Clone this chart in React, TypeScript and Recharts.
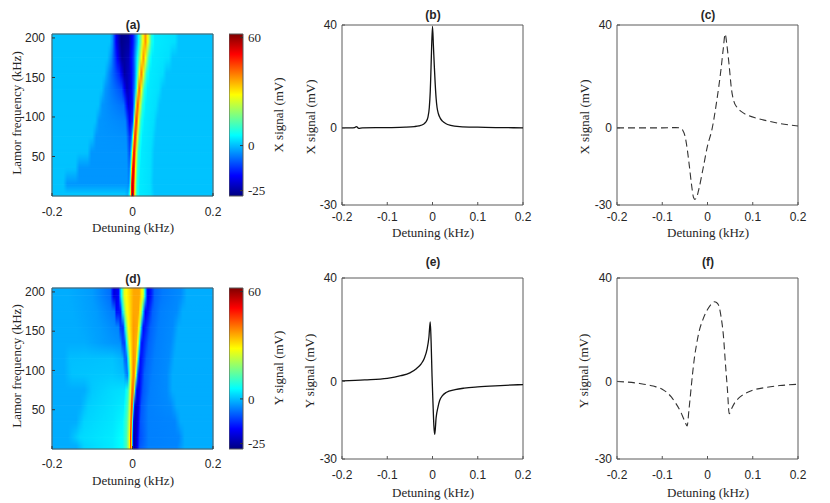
import { ComposedChart, Line, LineChart, ReferenceArea, XAxis, YAxis } from "recharts";

type Pt = [number, number];

// ---- data ----

// Larmor frequencies (kHz) at which the map profiles below were read
const larmorLevels = [3, 15, 35, 55, 75, 95, 115, 135, 155, 175, 195];

// (a) X signal map: per Larmor level, [detuning kHz, signal mV] profile
const xMapRows: Pt[][] = [
  [[-0.2, 0.5], [-0.02, 0.5], [-0.012, -1.5], [-0.008, 4], [-0.005, 25], [-0.003, 48], [0, 58], [0.003, 50], [0.006, 25], [0.011, 8], [0.018, 4], [0.045, 3], [0.055, 0.5], [0.2, 0.5]],
  [[-0.2, 0.5], [-0.172, 0.5], [-0.162, -3.5], [-0.014, -3.5], [-0.009, -5], [-0.006, 5], [-0.004, 25], [-0.0025, 48], [0.0005, 57], [0.0035, 48], [0.0065, 25], [0.011, 9], [0.018, 4], [0.043, 3], [0.053, 0.5], [0.2, 0.5]],
  [[-0.2, 0.5], [-0.142, 0.5], [-0.132, -3.5], [-0.014, -3.5], [-0.008, -7], [-0.005, 5], [-0.003, 25], [-0.001, 46], [0.002, 54], [0.005, 46], [0.008, 25], [0.013, 9], [0.02, 4], [0.044, 3], [0.054, 0.5], [0.2, 0.5]],
  [[-0.2, 0.5], [-0.112, 0.5], [-0.102, -3.5], [-0.015, -3.5], [-0.007, -10], [-0.003, 3], [-0.0005, 25], [0.0015, 44], [0.004, 51], [0.0065, 44], [0.0095, 25], [0.015, 9], [0.022, 4], [0.045, 3], [0.055, 0.5], [0.2, 0.5]],
  [[-0.2, 0.5], [-0.1, 0.5], [-0.09, -3.5], [-0.016, -4], [-0.006, -13], [-0.001, -3], [0.002, 25], [0.004, 42], [0.0065, 48], [0.009, 42], [0.0125, 25], [0.018, 9], [0.025, 4], [0.048, 3], [0.058, 0.5], [0.2, 0.5]],
  [[-0.2, 0.5], [-0.093, 0.5], [-0.083, -3.5], [-0.018, -5], [-0.007, -17], [0, -12], [0.0025, 2], [0.005, 25], [0.007, 40], [0.0095, 46], [0.012, 40], [0.0155, 25], [0.021, 9], [0.029, 4], [0.052, 3], [0.062, 0.5], [0.2, 0.5]],
  [[-0.2, 0.5], [-0.085, 0.5], [-0.075, -3.5], [-0.022, -7], [-0.01, -20], [0, -15], [0.005, 0], [0.008, 25], [0.0105, 38], [0.013, 44], [0.0155, 38], [0.019, 25], [0.025, 9], [0.033, 4], [0.058, 3], [0.068, 0.5], [0.2, 0.5]],
  [[-0.2, 0.5], [-0.077, 0.5], [-0.067, -3.5], [-0.027, -10], [-0.014, -23], [-0.004, -19], [0.004, -8], [0.009, 5], [0.0125, 25], [0.0145, 36], [0.017, 42], [0.0195, 36], [0.023, 25], [0.029, 9], [0.037, 4], [0.065, 3], [0.075, 0.5], [0.2, 0.5]],
  [[-0.2, 0.5], [-0.07, 0.5], [-0.06, -3.5], [-0.032, -14], [-0.02, -25], [-0.007, -21], [0.004, -10], [0.01, 4], [0.0155, 22], [0.019, 34], [0.022, 40], [0.025, 34], [0.0285, 24], [0.035, 9], [0.043, 4], [0.075, 3], [0.085, 0.5], [0.2, 0.5]],
  [[-0.2, 0.5], [-0.063, 0.5], [-0.053, -3.5], [-0.038, -16], [-0.026, -26], [-0.01, -23], [0.002, -12], [0.01, 2], [0.018, 18], [0.023, 30], [0.027, 38], [0.031, 31], [0.035, 22], [0.041, 9], [0.049, 4], [0.09, 3], [0.1, 0.5], [0.2, 0.5]],
  [[-0.2, 0.5], [-0.057, 0.5], [-0.05, -3.5], [-0.04, -18], [-0.028, -27], [-0.01, -25], [0.002, -14], [0.012, 0], [0.02, 15], [0.026, 28], [0.032, 38], [0.037, 30], [0.041, 22], [0.047, 9], [0.055, 4], [0.105, 3], [0.115, 0.5], [0.2, 0.5]],
];

// (d) Y signal map
const yMapRows: Pt[][] = [
  [[-0.2, -1.5], [-0.14, -1.5], [-0.12, 2], [-0.05, 4], [-0.025, 6], [-0.015, 12], [-0.008, 25], [-0.005, 45], [-0.003, 40], [-0.001, 10], [0.001, -15], [0.004, -25], [0.01, -20], [0.018, -9], [0.04, -5.5], [0.11, -5], [0.13, -1.5], [0.2, -1.5]],
  [[-0.2, -1.5], [-0.16, -1.5], [-0.13, 2.5], [-0.05, 4], [-0.025, 6], [-0.015, 12], [-0.008, 25], [-0.005, 46], [-0.003, 42], [-0.001, 10], [0.001, -15], [0.004, -25], [0.01, -21], [0.018, -10], [0.04, -5.5], [0.115, -5], [0.13, -1.5], [0.2, -1.5]],
  [[-0.2, -1.5], [-0.14, -1.5], [-0.12, 2], [-0.05, 3.5], [-0.025, 5], [-0.014, 12], [-0.007, 25], [-0.004, 45], [-0.002, 40], [0, 10], [0.002, -15], [0.006, -24], [0.012, -20], [0.02, -9], [0.04, -5.5], [0.105, -5], [0.12, -1.5], [0.2, -1.5]],
  [[-0.2, -1.5], [-0.13, -1.5], [-0.11, 1.5], [-0.05, 3], [-0.022, 4], [-0.012, 12], [-0.006, 26], [-0.003, 44], [0, 40], [0.002, 10], [0.004, -12], [0.008, -22], [0.014, -19], [0.022, -9], [0.04, -5.5], [0.095, -4.5], [0.11, -1.5], [0.2, -1.5]],
  [[-0.2, -1.5], [-0.12, -1.5], [-0.1, 1], [-0.05, 2.5], [-0.02, 3], [-0.011, 10], [-0.005, 27], [-0.001, 42], [0.003, 38], [0.006, 12], [0.008, -10], [0.012, -19], [0.018, -16], [0.026, -9], [0.045, -5.5], [0.085, -4.5], [0.1, -1.5], [0.2, -1.5]],
  [[-0.2, -1.5], [-0.17, -1.5], [-0.15, 0.5], [-0.05, 1], [-0.022, 0], [-0.016, -5], [-0.012, -6], [-0.008, 10], [-0.004, 28], [0.002, 40], [0.006, 36], [0.009, 20], [0.012, -5], [0.016, -17], [0.022, -14], [0.03, -8], [0.05, -5.5], [0.085, -4.5], [0.1, -1.5], [0.2, -1.5]],
  [[-0.2, -1.5], [-0.17, -1.5], [-0.155, 0], [-0.05, 0.5], [-0.025, -1], [-0.02, -7], [-0.015, -8], [-0.01, 10], [-0.005, 28], [0.002, 38], [0.008, 36], [0.012, 20], [0.016, -5], [0.02, -16], [0.026, -13], [0.035, -8], [0.055, -5.5], [0.09, -4.5], [0.105, -1.5], [0.2, -1.5]],
  [[-0.2, -1.5], [-0.12, -1.5], [-0.07, -3], [-0.03, -4], [-0.025, -10], [-0.019, -11], [-0.014, 8], [-0.008, 27], [0.002, 37], [0.01, 35], [0.015, 20], [0.019, -5], [0.023, -16], [0.029, -13], [0.04, -8], [0.06, -5.5], [0.095, -4.5], [0.11, -1.5], [0.2, -1.5]],
  [[-0.2, -1.5], [-0.14, -1.5], [-0.08, -3], [-0.035, -5], [-0.03, -12], [-0.023, -13], [-0.018, 8], [-0.011, 27], [0.002, 37], [0.012, 36], [0.018, 22], [0.023, -5], [0.027, -16], [0.033, -14], [0.045, -8], [0.065, -5.5], [0.1, -4.5], [0.115, -1.5], [0.2, -1.5]],
  [[-0.2, -1.5], [-0.15, -1.5], [-0.09, -3], [-0.045, -6], [-0.04, -16], [-0.03, -15], [-0.024, 6], [-0.016, 26], [0.002, 36], [0.015, 36], [0.022, 22], [0.028, -5], [0.032, -17], [0.039, -15], [0.05, -8], [0.07, -5.5], [0.11, -4.5], [0.125, -1.5], [0.2, -1.5]],
  [[-0.2, -1.5], [-0.16, -1.5], [-0.1, -3], [-0.055, -7], [-0.046, -20], [-0.035, -17], [-0.028, 5], [-0.02, 26], [0.003, 36], [0.017, 36], [0.027, 24], [0.033, -3], [0.038, -18], [0.046, -15], [0.055, -8], [0.075, -6], [0.12, -4.5], [0.135, -1.5], [0.2, -1.5]],
];

// (b) X signal, solid
const xSignalB: Pt[] = [
  [-0.2, 0], [-0.18, 0], [-0.172, 0.1], [-0.168, 0.5], [-0.163, -0.2], [-0.155, 0], [-0.1, 0.1], [-0.06, 0.25],
  [-0.04, 0.5], [-0.03, 0.8], [-0.02, 1.4], [-0.015, 2.2], [-0.01, 4.2], [-0.007, 8], [-0.005, 14], [-0.004, 19],
  [-0.0025, 28], [0, 39.5], [0.002, 32], [0.004, 24], [0.006, 17], [0.008, 11.5], [0.01, 8], [0.013, 5.5],
  [0.017, 3.8], [0.022, 2.6], [0.03, 1.6], [0.04, 1.0], [0.06, 0.5], [0.1, 0.25], [0.15, 0.1], [0.2, 0],
];

// (c) X signal, dashed
const xSignalC: Pt[] = [
  [-0.2, 0], [-0.15, 0], [-0.1, 0], [-0.07, 0.1], [-0.06, 0], [-0.055, -0.8], [-0.05, -3], [-0.045, -8],
  [-0.04, -15], [-0.035, -22.5], [-0.031, -27], [-0.028, -27.8], [-0.024, -27], [-0.02, -24.5], [-0.01, -16],
  [0, -7], [0.01, -0.5], [0.02, 10], [0.03, 23], [0.035, 31], [0.039, 36.5], [0.043, 32], [0.048, 24],
  [0.053, 15], [0.058, 10.5], [0.065, 8], [0.075, 6.3], [0.09, 4.8], [0.11, 3.7], [0.13, 2.8], [0.16, 1.7], [0.2, 0.7],
];

// (e) Y signal, solid
const ySignalE: Pt[] = [
  [-0.2, 0.2], [-0.15, 0.6], [-0.1, 1.2], [-0.07, 2.2], [-0.05, 3.3], [-0.035, 5], [-0.025, 6.8], [-0.018, 9],
  [-0.012, 12.5], [-0.008, 17], [-0.005, 23], [-0.003, 15], [-0.001, 2], [0.001, -8], [0.003, -17], [0.005, -20.5],
  [0.008, -14], [0.012, -10], [0.016, -7.3], [0.022, -5.5], [0.03, -4.3], [0.05, -3.2], [0.07, -2.6], [0.1, -2.1],
  [0.15, -1.6], [0.2, -1.2],
];

// (f) Y signal, dashed
const ySignalF: Pt[] = [
  [-0.2, 0], [-0.15, -0.8], [-0.12, -1.8], [-0.1, -3], [-0.08, -6], [-0.07, -8.5], [-0.06, -11.5], [-0.05, -15.5],
  [-0.045, -17.2], [-0.041, -11], [-0.037, -4], [-0.033, 3], [-0.029, 9], [-0.024, 14.5], [-0.019, 19], [-0.01, 24],
  [0, 27.8], [0.01, 30.2], [0.015, 30.8], [0.02, 30.5], [0.025, 29.3], [0.03, 25], [0.035, 18], [0.04, 6],
  [0.044, -3], [0.048, -12.5], [0.052, -11], [0.06, -8.3], [0.07, -6.3], [0.08, -5], [0.1, -3.4], [0.13, -2.3],
  [0.16, -1.6], [0.2, -1.1],
];

const detuningDomain: [number, number] = [-0.2, 0.2];
const detuningTicks = [-0.2, -0.1, 0, 0.1, 0.2];
const mapDetuningTicks = [-0.2, 0, 0.2];
const larmorDomain: [number, number] = [0, 205];
const larmorTicks = [50, 100, 150, 200];
const signalDomain: [number, number] = [-30, 40];
const signalTicks = [-30, 0, 40];
const colorLimits: [number, number] = [-28, 62];
const colorbarTicks = [-25, 0, 60];

// ---- styling helpers ----

const SANS = '"Liberation Sans", Arial, sans-serif';
const SERIF = '"Liberation Serif", "Times New Roman", serif';
const BOX = "#5a5a5a";
const tickStyle = { fontFamily: SANS, fontSize: 12, fill: "#262626" };

function jet(t: number) {
  const c = (v: number) => Math.round(255 * Math.min(1, Math.max(0, v)));
  return `rgb(${c(1.5 - Math.abs(4 * t - 3))},${c(1.5 - Math.abs(4 * t - 2))},${c(1.5 - Math.abs(4 * t - 1))})`;
}

const toT = (v: number) =>
  Math.min(1, Math.max(0, (v - colorLimits[0]) / (colorLimits[1] - colorLimits[0])));

const JET_KNOTS = [0.125, 0.375, 0.625, 0.875];

// gradient stops for one map row; extra stops at jet knots keep the colours on the colormap
function rowStops(profile: Pt[]) {
  const [lo, hi] = detuningDomain;
  const off = (d: number) => (d - lo) / (hi - lo);
  const stops: { offset: number; color: string }[] = [];
  profile.forEach(([d, v], i) => {
    if (i > 0) {
      const [d0, v0] = profile[i - 1];
      const t0 = toT(v0);
      const t1 = toT(v);
      const knots = JET_KNOTS.filter((k) => (k - t0) * (k - t1) < 0);
      if (t1 < t0) knots.reverse();
      knots.forEach((k) => {
        const f = (k - t0) / (t1 - t0);
        stops.push({ offset: off(d0 + f * (d - d0)), color: jet(k) });
      });
    }
    stops.push({ offset: off(d), color: jet(toT(v)) });
  });
  return stops;
}

function Caption({ x, y, text, rotate = false, serif = true, bold = false, size = 13 }: {
  x: number; y: number; text: string; rotate?: boolean; serif?: boolean; bold?: boolean; size?: number;
}) {
  return (
    <div
      style={{
        position: "absolute",
        left: x,
        top: y,
        transform: `translate(-50%, -50%)${rotate ? " rotate(-90deg)" : ""}`,
        whiteSpace: "nowrap",
        fontFamily: serif ? SERIF : SANS,
        fontWeight: bold ? 700 : 400,
        fontSize: size,
        lineHeight: 1,
        color: "#262626",
      }}
    >
      {text}
    </div>
  );
}

function HeatMap({ id, rows, top, height, xTickMargin }: {
  id: string; rows: Pt[][]; top: number; height: number; xTickMargin: number;
}) {
  const width = 161;
  const n = larmorLevels.length;
  // bands between read levels: lower profile underneath, upper profile faded in on top
  const bands: { y1: number; y2: number; base: number; over?: number }[] = [
    { y1: larmorDomain[0], y2: larmorLevels[0], base: 0 },
    ...larmorLevels.slice(0, -1).map((l, i) => ({ y1: l, y2: larmorLevels[i + 1], base: i, over: i + 1 })),
    { y1: larmorLevels[n - 1], y2: larmorDomain[1], base: n - 1 },
  ];
  return (
    <div style={{ position: "absolute", left: 0, top: top - 10 }}>
      <ComposedChart width={width + 62} height={height + 40} margin={{ top: 10, right: 10, bottom: 0, left: 0 }}>
        <defs>
          {rows.map((r, i) => (
            <linearGradient key={i} id={`${id}-${i}`} x1="0" y1="0" x2="1" y2="0">
              {rowStops(r).map((s, j) => (
                <stop key={j} offset={s.offset} stopColor={s.color} />
              ))}
            </linearGradient>
          ))}
          <linearGradient id={`${id}-fadeGrad`} x1="0" y1="0" x2="0" y2="1">
            <stop offset={0} stopColor="#fff" />
            <stop offset={1} stopColor="#000" />
          </linearGradient>
          <mask id={`${id}-fade`} maskContentUnits="objectBoundingBox">
            <rect x={0} y={0} width={1} height={1} fill={`url(#${id}-fadeGrad)`} />
          </mask>
        </defs>
        {bands.flatMap((b, i) => {
          const items = [
            <ReferenceArea
              key={`b${i}`}
              x1={detuningDomain[0]}
              x2={detuningDomain[1]}
              y1={b.y1}
              y2={b.y2}
              fill={`url(#${id}-${b.base})`}
              fillOpacity={1}
              stroke={`url(#${id}-${b.base})`}
              strokeWidth={0.8}
              ifOverflow="visible"
            />,
          ];
          if (b.over !== undefined) {
            items.push(
              <ReferenceArea
                key={`o${i}`}
                x1={detuningDomain[0]}
                x2={detuningDomain[1]}
                y1={b.y1}
                y2={b.y2}
                fill={`url(#${id}-${b.over})`}
                fillOpacity={1}
                stroke="none"
                mask={`url(#${id}-fade)`}
                ifOverflow="visible"
              />
            );
          }
          return items;
        })}
        <ReferenceArea
          x1={detuningDomain[0]}
          x2={detuningDomain[1]}
          y1={larmorDomain[0]}
          y2={larmorDomain[1]}
          fill="none"
          fillOpacity={0}
          stroke={BOX}
          ifOverflow="visible"
        />
        <XAxis
          type="number"
          dataKey="d"
          domain={detuningDomain}
          ticks={mapDetuningTicks}
          interval={0}
          allowDataOverflow
          height={30}
          axisLine={false}
          tickSize={-3}
          tickMargin={xTickMargin}
          tickLine={{ stroke: "#333" }}
          tick={tickStyle}
        />
        <YAxis
          type="number"
          dataKey="L"
          domain={larmorDomain}
          ticks={larmorTicks}
          interval={0}
          allowDataOverflow
          width={52}
          axisLine={false}
          tickSize={-3}
          tickMargin={10}
          tickLine={{ stroke: "#333" }}
          tick={tickStyle}
        />
      </ComposedChart>
    </div>
  );
}

function ColorBar({ id, top, height }: { id: string; top: number; height: number }) {
  const knots = [1, 0.875, 0.625, 0.375, 0.125, 0];
  return (
    <div style={{ position: "absolute", left: 229, top: top - 10 }}>
      <ComposedChart width={14 + 40} height={height + 20} margin={{ top: 10, right: 0, bottom: 10, left: 0 }}>
        <defs>
          <linearGradient id={id} x1="0" y1="0" x2="0" y2="1">
            {knots.map((k) => (
              <stop key={k} offset={1 - k} stopColor={jet(k)} />
            ))}
          </linearGradient>
        </defs>
        <ReferenceArea
          x1={0}
          x2={1}
          y1={colorLimits[0]}
          y2={colorLimits[1]}
          fill={`url(#${id})`}
          fillOpacity={1}
          stroke={BOX}
          ifOverflow="visible"
        />
        <XAxis
          type="number"
          dataKey="x"
          domain={[0, 1]}
          allowDataOverflow
          height={0}
          axisLine={false}
          tickLine={false}
          tick={false}
        />
        <YAxis
          type="number"
          dataKey="v"
          orientation="right"
          domain={colorLimits}
          ticks={colorbarTicks}
          interval={0}
          allowDataOverflow
          width={40}
          axisLine={false}
          tickSize={-3}
          tickMargin={8}
          tickLine={{ stroke: "#333" }}
          tick={{ fontFamily: SERIF, fontSize: 13, fill: "#262626" }}
        />
      </ComposedChart>
    </div>
  );
}

function SignalPanel({ points, left, top, height, dashed, xTickMargin }: {
  points: Pt[]; left: number; top: number; height: number; dashed: boolean; xTickMargin: number;
}) {
  const width = 181;
  const data = points.map(([d, v]) => ({ d, v }));
  return (
    <div style={{ position: "absolute", left: left - 50, top: top - 10 }}>
      <LineChart width={width + 60} height={height + 40} data={data} margin={{ top: 10, right: 10, bottom: 0, left: 0 }}>
        <ReferenceArea
          x1={detuningDomain[0]}
          x2={detuningDomain[1]}
          y1={signalDomain[0]}
          y2={signalDomain[1]}
          fill="none"
          fillOpacity={0}
          stroke={BOX}
          ifOverflow="visible"
        />
        <XAxis
          type="number"
          dataKey="d"
          domain={detuningDomain}
          ticks={detuningTicks}
          interval={0}
          allowDataOverflow
          height={30}
          axisLine={false}
          tickSize={-3}
          tickMargin={xTickMargin}
          tickLine={{ stroke: "#555" }}
          tick={tickStyle}
        />
        <YAxis
          type="number"
          domain={signalDomain}
          ticks={signalTicks}
          interval={0}
          allowDataOverflow
          width={50}
          axisLine={false}
          tickSize={-3}
          tickMargin={8}
          tickLine={{ stroke: "#555" }}
          tick={tickStyle}
        />
        <Line
          type="monotone"
          dataKey="v"
          stroke={dashed ? "#333" : "#111"}
          strokeWidth={dashed ? 1.1 : 1.3}
          strokeDasharray={dashed ? "7 4" : undefined}
          dot={false}
          activeDot={false}
          isAnimationActive={false}
        />
      </LineChart>
    </div>
  );
}

export default function App() {
  return (
    <div style={{ position: "absolute", left: 0, top: 0, width: 830, height: 503, background: "#fff", overflow: "hidden" }}>
      {/* top row */}
      <HeatMap id="xmap" rows={xMapRows} top={34} height={162} xTickMargin={14} />
      <ColorBar id="xbar" top={34} height={162} />
      <SignalPanel points={xSignalB} left={342} top={25} height={180} dashed={false} xTickMargin={10} />
      <SignalPanel points={xSignalC} left={617} top={25} height={180} dashed xTickMargin={10} />

      {/* bottom row */}
      <HeatMap id="ymap" rows={yMapRows} top={288} height={161} xTickMargin={13} />
      <ColorBar id="ybar" top={288} height={161} />
      <SignalPanel points={ySignalE} left={342} top={278} height={181} dashed={false} xTickMargin={14} />
      <SignalPanel points={ySignalF} left={617} top={278} height={181} dashed xTickMargin={14} />

      <Caption x={133} y={25} text="(a)" serif={false} bold size={12} />
      <Caption x={433} y={15} text="(b)" serif={false} bold size={12} />
      <Caption x={708} y={15} text="(c)" serif={false} bold size={12} />
      <Caption x={133} y={279} text="(d)" serif={false} bold size={12} />
      <Caption x={433} y={262} text="(e)" serif={false} bold size={12} />
      <Caption x={708} y={262} text="(f)" serif={false} bold size={12} />

      <Caption x={16} y={113} text="Lamor frequency (kHz)" rotate />
      <Caption x={16} y={366} text="Lamor frequency (kHz)" rotate />
      <Caption x={278} y={115} text="X signal (mV)" rotate />
      <Caption x={278} y={368} text="Y signal (mV)" rotate />
      <Caption x={310} y={117} text="X signal (mV)" rotate />
      <Caption x={584} y={117} text="X signal (mV)" rotate />
      <Caption x={309} y={371} text="Y signal (mV)" rotate />
      <Caption x={583} y={371} text="Y signal (mV)" rotate />

      <Caption x={133} y={227} text="Detuning (kHz)" />
      <Caption x={433} y={232} text="Detuning (kHz)" />
      <Caption x={708} y={232} text="Detuning (kHz)" />
      <Caption x={133} y={480} text="Detuning (kHz)" />
      <Caption x={433} y={492} text="Detuning (kHz)" />
      <Caption x={708} y={492} text="Detuning (kHz)" />
    </div>
  );
}
